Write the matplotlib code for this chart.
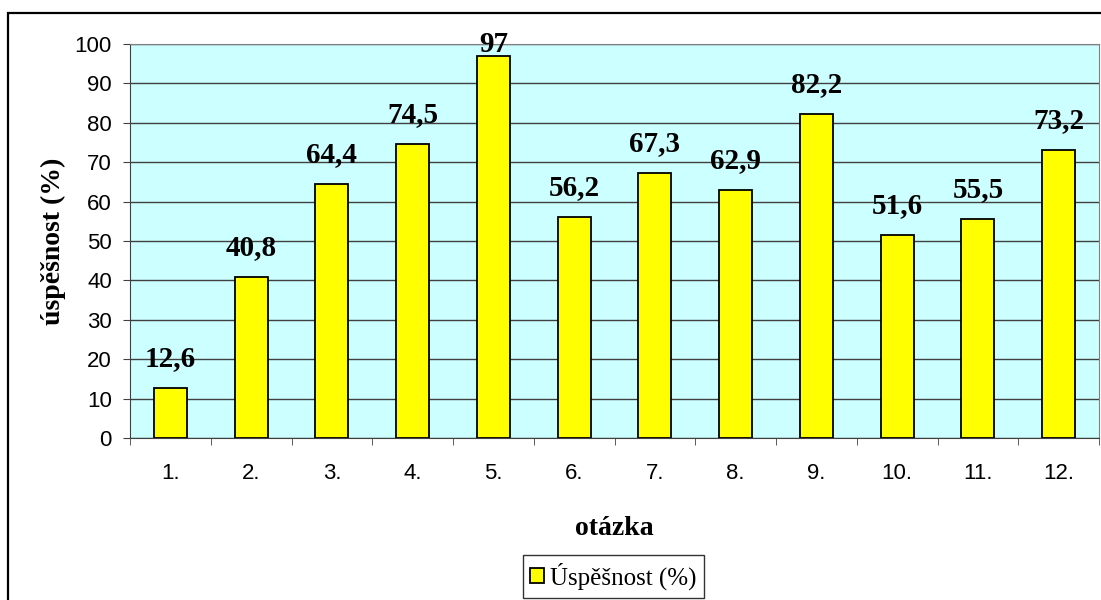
import matplotlib
matplotlib.use("Agg")
import matplotlib.pyplot as plt
from matplotlib.patches import Rectangle
import numpy as np

# data
otazky = ["1.", "2.", "3.", "4.", "5.", "6.", "7.", "8.", "9.", "10.", "11.", "12."]
uspesnost = [12.6, 40.8, 64.4, 74.5, 97, 56.2, 67.3, 62.9, 82.2, 51.6, 55.5, 73.2]
popisky = ["12,6", "40,8", "64,4", "74,5", "97", "56,2", "67,3", "62,9", "82,2", "51,6", "55,5", "73,2"]

fig = plt.figure(figsize=(11.01, 6), dpi=100)
ax = fig.add_axes([130 / 1101, 1 - 438 / 600, 969 / 1101, 394 / 600])

# ramecek kolem grafu (vpravo a dole oriznuty)
fig.patches.append(Rectangle((8 / 1101, -0.2), 1.2, 1.2 - 13 / 600, transform=fig.transFigure,
                             fill=False, edgecolor="black", linewidth=1.6, zorder=0))

x = np.arange(len(otazky))
ax.set_facecolor("#CCFFFF")
ax.bar(x, uspesnost, width=0.41, color="#FFFF00", edgecolor="black", linewidth=1.3,
       zorder=3, label="Úspěšnost (%)")
ax.set_xlim(-0.5, len(otazky) - 0.5)
ax.set_ylim(0, 100)

# popisky hodnot - nad sloupcem, ale ne nad horni okraj (jako Excel)
for xi, val, txt in zip(x, uspesnost, popisky):
    top_px = 600 - ax.transData.transform((xi, val))[1]
    gap_px = min(22, top_px - 52)
    ax.annotate(txt, (xi, val), xytext=(0, gap_px * 72 / 100), textcoords="offset points",
                ha="center", va="baseline", fontsize=21, fontweight="bold",
                family="Liberation Serif", annotation_clip=False)

ax.set_yticks(range(0, 101, 10))
ax.yaxis.grid(True, color="#404040", linewidth=1.0)
ax.set_axisbelow(True)

ax.set_xticks(x)
ax.set_xticklabels(otazky, family="Liberation Sans", fontsize=16)
ax.set_xticks(np.arange(-0.5, len(otazky)), minor=True)
ax.tick_params(axis="x", which="major", length=0, pad=18)
ax.tick_params(axis="x", which="minor", length=5, color="#404040")
ax.tick_params(axis="y", length=5, color="#404040", labelsize=16, pad=8)
for lab in ax.get_yticklabels():
    lab.set_family("Liberation Sans")

for s in ["top", "right"]:
    ax.spines[s].set_color("#808080")
for s in ["left", "bottom"]:
    ax.spines[s].set_color("#404040")

ax.set_xlabel("otázka", family="Liberation Serif", fontweight="bold", fontsize=20, labelpad=23)
ax.set_ylabel("úspěšnost (%)", family="Liberation Serif", fontweight="bold", fontsize=20, labelpad=6)

leg = ax.legend(loc="center", bbox_to_anchor=(613.5 / 1101, 1 - 576.5 / 600), bbox_transform=fig.transFigure,
                prop={"family": "Liberation Serif", "size": 18}, frameon=True, fancybox=False,
                handlelength=0.55, handleheight=0.55, handletextpad=0.25, borderpad=0.3)
leg.get_frame().set_edgecolor("black")
leg.get_frame().set_linewidth(1.0)

fig.savefig("out.png", dpi=100)
